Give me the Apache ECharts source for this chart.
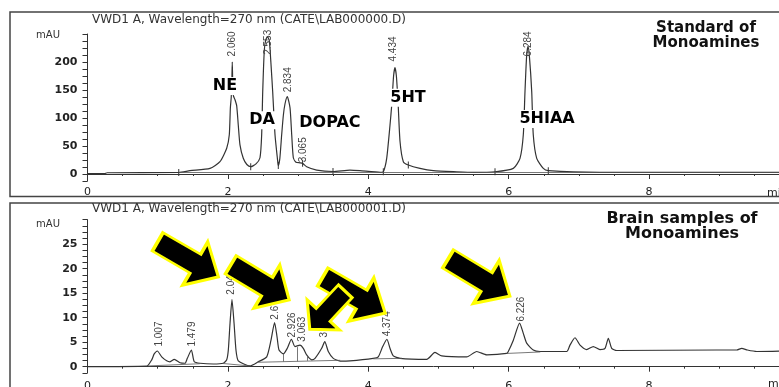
<!DOCTYPE html>
<html>
<head>
<meta charset="utf-8">
<script src="https://cdn.jsdelivr.net/npm/echarts@6/dist/echarts.min.js"></script>
<style>
  html, body { margin: 0; padding: 0; background: #fff; }
  #main { width: 779px; height: 387px; }
</style>
</head>
<body>
<div id="main"></div>
<script>
// standard chromatogram (min, mAU)
const stdTime = [0, 0.24, 0.28, 1.30, 1.46, 1.745, 1.887, 1.983, 2.02, 2.035, 2.048, 2.056, 2.062, 2.068, 2.078, 2.1, 2.125, 2.148, 2.172, 2.219, 2.27, 2.325, 2.40, 2.457, 2.481, 2.496, 2.519, 2.54, 2.565, 2.59, 2.612, 2.638, 2.671, 2.704, 2.718, 2.74, 2.766, 2.79, 2.813, 2.846, 2.885, 2.909, 2.932, 2.97, 3.027, 3.064, 3.122, 3.265, 3.497, 3.739, 3.88, 4.17, 4.214, 4.262, 4.309, 4.335, 4.36, 4.38, 4.40, 4.425, 4.452, 4.499, 4.57, 4.736, 4.926, 5.26, 5.5, 5.805, 6.066, 6.161, 6.208, 6.232, 6.255, 6.275, 6.295, 6.328, 6.35, 6.399, 6.493, 6.564, 7.3, 10];
const stdAbs = [0.5, 0.5, 2.2, 2.7, 5.9, 10, 22, 46, 70, 118, 138, 165, 200, 168, 140, 133, 122, 87, 52, 28, 17, 13, 18, 29, 70, 147, 222, 240, 245, 238, 200, 147, 70, 29, 15, 28, 70, 105, 125, 138, 118, 70, 29, 21, 20, 19, 13, 7, 4.5, 7, 6, 3, 4, 28, 87, 125, 175, 190, 175, 125, 58, 22, 16, 10, 6, 4, 3, 4, 10, 28, 70, 147, 210, 228, 210, 147, 70, 28, 10, 6, 3, 3];

// brain sample chromatogram (min, mAU)
const brainTime = [0, 0.843, 0.915, 0.95, 0.995, 1.057, 1.128, 1.175, 1.236, 1.318, 1.389, 1.422, 1.48, 1.521, 1.603, 1.792, 1.934, 1.983, 2.006, 2.03, 2.058, 2.088, 2.115, 2.148, 2.315, 2.433, 2.553, 2.614, 2.665, 2.70, 2.728, 2.789, 2.846, 2.905, 2.956, 3.027, 3.074, 3.122, 3.194, 3.241, 3.336, 3.38, 3.43, 3.501, 3.597, 3.739, 4.071, 4.142, 4.205, 4.265, 4.309, 4.356, 4.452, 4.832, 4.95, 5.046, 5.402, 5.544, 5.687, 5.971, 5.994, 6.066, 6.155, 6.208, 6.256, 6.35, 6.446, 6.826, 6.873, 6.944, 7.016, 7.111, 7.205, 7.3, 7.372, 7.419, 7.467, 7.538, 8.963, 9.25, 9.319, 9.4, 9.533, 10];
const brainAbs = [0, 0.1, 1.4, 2.6, 3.2, 2.0, 1.2, 1.0, 1.5, 0.8, 0.7, 1.7, 3.4, 1.0, 0.7, 0.55, 0.7, 1.4, 3.4, 8.8, 13.7, 8.8, 3.4, 1.2, 0.15, 1.0, 2.0, 5.4, 9.0, 6.1, 3.4, 2.6, 3.75, 5.6, 4.1, 4.4, 3.75, 2.4, 1.4, 1.7, 3.75, 5.1, 3.1, 1.7, 1.15, 1.2, 1.7, 2.0, 4.1, 5.6, 3.75, 2.2, 1.7, 1.5, 2.9, 2.2, 2.0, 3.1, 2.4, 2.7, 3.1, 5.4, 8.9, 6.8, 4.8, 3.4, 3.1, 3.1, 4.4, 5.9, 4.4, 3.5, 4.1, 3.5, 3.75, 5.8, 3.75, 3.3, 3.4, 3.4, 3.75, 3.4, 3.1, 3.2];

// integration baselines / drop lines under the brain peaks
const brainBaseFrom = [[0.86, 0.15], [1.93, 0.65], [2.43, 0.9], [4.07, 1.6], [5.97, 2.7], [2.79, 1.05], [2.99, 1.1], [3.13, 1.2]];
const brainBaseTo = [[1.6, 0.6], [2.31, 0.15], [3.6, 1.3], [4.48, 1.7], [6.45, 3.0], [2.79, 2.6], [2.99, 4.0], [3.13, 2.3]];

// retention time labels
const stdRtText = ['2.060', '2.553', '2.834', '3.065', '4.434', '6.284'];
const stdRtTime = [2.068, 2.571, 2.856, 3.07, 4.355, 6.275];
const stdRtAt = [209, 212, 145, 20, 200, 209];

const brainRtText = ['1.007', '1.479', '2.041', '2.672', '2.926', '3.063', '3.388', '4.374', '6.226'];
const brainRtTime = [1.019, 1.496, 2.051, 2.671, 2.92, 3.063, 3.369, 4.274, 6.175];
const brainRtAt = [4.0, 4.0, 14.6, 9.5, 5.85, 5.0, 5.85, 6.1, 9.1];

// compound names on the standard
const stdNames = ['NE', 'DA', 'DOPAC', '5HT', '5HIAA'];
const stdNameTime = [1.958, 2.486, 3.453, 4.565, 6.546];
const stdNameAt = [157, 96, 91, 136, 98];

// integration event marks on the standard
const stdMarkTime = [1.30, 2.325, 2.718, 3.064, 3.497, 4.214, 4.57, 5.805, 6.564];
const stdMarkAbs = [2.7, 13, 15, 19, 4.5, 4, 16, 4, 6];

// arrows on the brain trace
const arrowTime = [1.432, 2.457, 3.796, 3.419, 5.577];
const arrowAt = [21.9, 17.2, 14.6, 11.5, 18.2];
const arrowTurn = [-30, -31, -30, -133, -31];
const arrowLen = [70, 68, 72, 52, 72];

const pair = (a, b) => a.map((x, i) => [x, b[i]]);

const chart = echarts.init(document.getElementById('main'));

const xAxisBase = (gi, margin) => ({
  type: 'value', gridIndex: gi, min: 0, max: 10, interval: 2,
  axisLine: { lineStyle: { color: '#333', width: 1 } },
  axisTick: { length: 5, lineStyle: { color: '#333' } },
  minorTick: { show: true, splitNumber: 4, length: 2, lineStyle: { color: '#333' } },
  splitLine: { show: false },
  axisLabel: { fontSize: 11, color: '#222', margin: margin, fontFamily: 'DejaVu Sans',
    formatter: v => v < 10 ? String(v) : '' }
});

const arrowPath = 'path://M0,20 L62,20 L62,0 L100,35 L62,70 L62,50 L0,50 Z';

const rtLabel = {
  show: true, formatter: p => p.name, position: 'top', distance: 0, rotate: 90,
  align: 'left', verticalAlign: 'middle', fontSize: 10, color: '#444', fontFamily: 'Liberation Sans'
};

const option = {
  animation: false,
  backgroundColor: '#fff',
  textStyle: { fontFamily: 'DejaVu Sans' },
  title: [
    { text: 'VWD1 A, Wavelength=270 nm (CATE\\LAB000000.D)', left: 92, top: 14, padding: 0,
      textStyle: { fontSize: 12, fontWeight: 'normal', color: '#333', fontFamily: 'DejaVu Sans' } },
    { text: 'VWD1 A, Wavelength=270 nm (CATE\\LAB000001.D)', left: 92, top: 203, padding: 0,
      textStyle: { fontSize: 12, fontWeight: 'normal', color: '#333', fontFamily: 'DejaVu Sans' } }
  ],
  grid: [
    { left: 87.5, width: 702, top: 34, bottom: 206, outerBoundsMode: 'none', containLabel: false },
    { left: 87.5, width: 702, top: 219.7, bottom: 14.2, outerBoundsMode: 'none', containLabel: false }
  ],
  xAxis: [xAxisBase(0, 6), xAxisBase(1, 8)],
  yAxis: [
    {
      type: 'value', gridIndex: 0, min: -12.5, max: 250, interval: 12.5,
      axisLine: { show: true, lineStyle: { color: '#333' } },
      axisTick: { show: true, length: 5, lineStyle: { color: '#333' } },
      splitLine: { show: false },
      axisLabel: { fontSize: 11, fontWeight: 'bold', color: '#222', margin: 10,
        formatter: v => (v >= 0 && v < 250 && v % 50 === 0) ? String(v) : '' }
    },
    {
      type: 'value', gridIndex: 1, min: -1.25, max: 30, interval: 1.25,
      axisLine: { show: true, lineStyle: { color: '#333' } },
      axisTick: { show: true, length: 5, lineStyle: { color: '#333' } },
      splitLine: { show: false },
      axisLabel: { fontSize: 11, fontWeight: 'bold', color: '#222', margin: 10,
        formatter: v => (v >= 0 && v < 30 && v % 5 === 0) ? String(v) : '' }
    }
  ],
  series: [
    {
      type: 'line', xAxisIndex: 0, yAxisIndex: 0, data: pair(stdTime, stdAbs),
      symbol: 'none', smooth: 0.2, lineStyle: { color: '#333', width: 1.2 }, z: 3,
      markLine: {
        silent: true, symbol: 'none', label: { show: false },
        lineStyle: { color: '#555', width: 0.8, type: 'solid' },
        data: [[{ coord: [1.3, 2.4] }, { coord: [10, 2.4] }]]
      }
    },
    {
      type: 'scatter', xAxisIndex: 0, yAxisIndex: 0, data: pair(stdMarkTime, stdMarkAbs),
      symbol: 'rect', symbolSize: [1, 7], itemStyle: { color: '#333', opacity: 1 }, z: 3
    },
    {
      type: 'scatter', xAxisIndex: 0, yAxisIndex: 0,
      data: stdRtText.map((s, i) => ({ value: [stdRtTime[i], stdRtAt[i]], name: s })),
      symbolSize: 1, itemStyle: { color: 'transparent', opacity: 1 }, z: 4, label: rtLabel
    },
    {
      type: 'scatter', xAxisIndex: 0, yAxisIndex: 0,
      data: stdNames.map((s, i) => ({ value: [stdNameTime[i], stdNameAt[i]], name: s })),
      symbolSize: 1, itemStyle: { color: 'transparent', opacity: 1 }, z: 5,
      label: { show: true, formatter: p => p.name, position: 'inside', fontSize: 16, fontWeight: 'bold',
        color: '#000', backgroundColor: '#fff', padding: [1, 3] }
    },
    {
      type: 'line', xAxisIndex: 1, yAxisIndex: 1, data: pair(brainTime, brainAbs),
      symbol: 'none', smooth: 0.2, lineStyle: { color: '#333', width: 1.2 }, z: 3,
      markLine: {
        silent: true, symbol: 'none', label: { show: false },
        lineStyle: { color: '#555', width: 0.8, type: 'solid' },
        data: brainBaseFrom.map((a, i) => [{ coord: a }, { coord: brainBaseTo[i] }])
      }
    },
    {
      type: 'scatter', xAxisIndex: 1, yAxisIndex: 1,
      data: brainRtText.map((s, i) => ({ value: [brainRtTime[i], brainRtAt[i]], name: s })),
      symbolSize: 1, itemStyle: { color: 'transparent', opacity: 1 }, z: 4, label: rtLabel
    },
    {
      type: 'scatter', xAxisIndex: 1, yAxisIndex: 1,
      data: arrowTime.map((t, i) => ({
        value: [t, arrowAt[i]], symbolRotate: arrowTurn[i], symbolSize: [arrowLen[i], i === 3 ? 44 : 50]
      })),
      symbol: arrowPath, itemStyle: { color: '#000', opacity: 1, borderColor: '#ffff00', borderWidth: 3 }, z: 6
    }
  ],
  graphic: [
    { type: 'rect', silent: true, shape: { x: 10, y: 12, width: 790, height: 184.5 },
      style: { fill: 'none', stroke: '#444', lineWidth: 1.5 } },
    { type: 'rect', silent: true, shape: { x: 10, y: 203, width: 790, height: 200 },
      style: { fill: 'none', stroke: '#444', lineWidth: 1.5 } },
    { type: 'text', silent: true, x: 60, y: 35,
      style: { text: 'mAU', font: '10px "DejaVu Sans"', fill: '#333', align: 'right', verticalAlign: 'middle' } },
    { type: 'text', silent: true, x: 60, y: 224,
      style: { text: 'mAU', font: '10px "DejaVu Sans"', fill: '#333', align: 'right', verticalAlign: 'middle' } },
    { type: 'text', silent: true, x: 706, y: 36,
      style: { text: 'Standard of\nMonoamines', font: 'bold 15px "DejaVu Sans"', fill: '#111',
        align: 'center', verticalAlign: 'middle', lineHeight: 15 } },
    { type: 'text', silent: true, x: 682, y: 226.5,
      style: { text: 'Brain samples of\nMonoamines', font: 'bold 16px "DejaVu Sans"', fill: '#111',
        align: 'center', verticalAlign: 'middle', lineHeight: 15 } },
    { type: 'text', silent: true, x: 767, y: 193,
      style: { text: 'min', font: '11px "DejaVu Sans"', fill: '#222', verticalAlign: 'middle' } },
    { type: 'text', silent: true, x: 768, y: 384,
      style: { text: 'min', font: '11px "DejaVu Sans"', fill: '#222', verticalAlign: 'middle' } }
  ]
};

chart.setOption(option);
</script>
</body>
</html>
